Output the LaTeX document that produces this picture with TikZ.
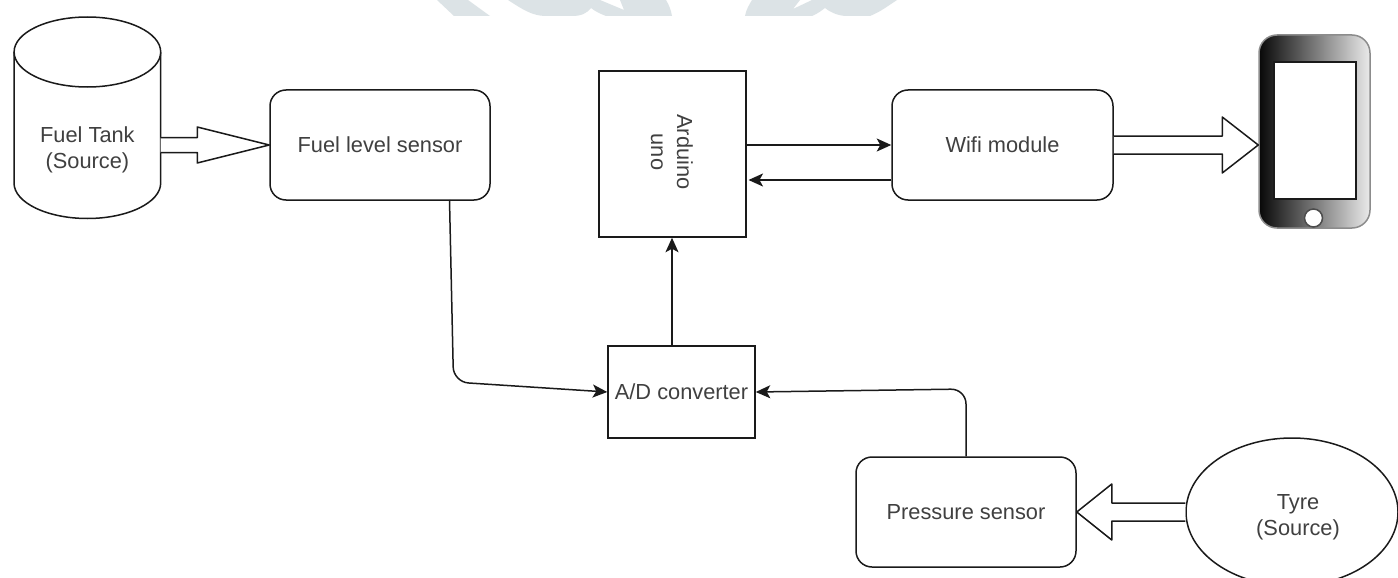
\documentclass[tikz,border=0pt]{standalone}
\usepackage{fontspec}
\setmainfont{Liberation Sans}
\usetikzlibrary{arrows.meta,calc,shapes.geometric}
\definecolor{wm}{HTML}{DCE3E6}
\definecolor{txt}{HTML}{404040}
\definecolor{ln}{HTML}{1A1A1A}
\tikzset{
  lbl/.style={text=txt,font=\fontsize{21.8}{26}\selectfont,align=center,inner sep=0pt},
  boxbase/.style={draw=ln,line width=1.5pt,fill=white,inner sep=0pt,lbl},
  sharpbox/.style={boxbase},
  roundbox/.style={boxbase,rounded corners=16pt},
  conn/.style={draw=ln,line width=1.5pt,-{Stealth[length=14.5pt,width=13pt,inset=3.5pt]}},
  blockarrow/.style={draw=ln,line width=1.5pt,fill=white,line join=round},
  outline/.style={draw=ln,line width=1.5pt,fill=white},
}
\newcommand{\hollowarrow}[5]{%
  \draw[blockarrow] let \p1=(#1),\p2=(#2) in
    (\x1,\y2+#3pt) -- (\x2-#5pt,\y2+#3pt) -- (\x2-#5pt,\y2+#4pt) -- (\x2,\y2)
    -- (\x2-#5pt,\y2-#4pt) -- (\x2-#5pt,\y2-#3pt) -- (\x1,\y2-#3pt);}
\begin{document}
\begin{tikzpicture}[x=1pt,y=-1pt]
\useasboundingbox (0,0) rectangle (1398,578);
\clip (0,0) rectangle (1398,578);
\fill[white] (0,0) rectangle (1398,578);
% watermark remnants
\fill[wm] (437,0) -- (454,16) -- (490,16) -- (468,0) -- cycle;
\fill[wm] (508,0) .. controls (522,9) and (532,16) .. (546,16) -- (572,16)
  .. controls (582,16) and (587,13) .. (591,8) .. controls (596,12) and (601,14) .. (606,16)
  -- (672,16) .. controls (671,10) and (669,5) .. (666,0) -- (620,0) -- (624,10) -- (600,0) -- cycle;
\fill[wm] (745,16) .. controls (746,10) and (749,5) .. (752,0) -- (800,0) -- (793,9) -- (812,0)
  -- (897,0) .. controls (888,6) and (880,12) .. (870,16) -- (845,16)
  .. controls (836,15) and (830,12) .. (825,8) .. controls (821,11) and (817,14) .. (812,16) -- cycle;

% fuel tank
\coordinate (tankport) at (160.7,145);
\draw[outline] (14,52) -- (14,183) .. controls (14,202.5) and (47,218.5) .. (87.4,218.5)
  .. controls (127.8,218.5) and (160.7,202.5) .. (160.7,183) -- (160.7,52);
\draw[outline] (87.4,52) ellipse [x radius=73.3,y radius=35];
\node[lbl] (tanklabel) at (87.4,150) {Fuel Tank\\(Source)};

% nodes
\node[roundbox,minimum width=220pt,minimum height=110pt] (fuel) at (380,145) {Fuel level sensor};
\node[sharpbox,minimum width=147pt,minimum height=166pt] (arduino) at (672.5,154) {};
\node[lbl,rotate=-90] (arduinolabel) at (672,152) {Arduino\\uno};
\node[roundbox,minimum width=221pt,minimum height=110pt] (wifi) at (1002.5,145) {Wifi module};
\node[sharpbox,minimum width=147pt,minimum height=92pt] (adc) at (681.5,392) {A/D converter};
\node[roundbox,minimum width=220pt,minimum height=110pt] (pressure) at (966,512) {Pressure sensor};
\node[boxbase,shape=ellipse,minimum width=212pt,minimum height=148pt] (tyre) at (1292,512) {};
\node[lbl] (tyrelabel) at (1298,517) {Tyre\\(Source)};

% phone
\node[draw=black!45,line width=1.5pt,rounded corners=18pt,left color=black!97,right color=black!8,
      minimum width=111pt,minimum height=193pt,inner sep=0pt] (phone) at (1314.5,131.5) {};
\node[draw=ln,line width=1.5pt,fill=white,minimum width=82pt,minimum height=137pt,inner sep=0pt] (screen) at (1315,130.5) {};
\node[draw=black!70,line width=1.5pt,fill=white,shape=circle,minimum size=18pt,inner sep=0pt] (homebtn) at (1313.5,218) {};

% block arrows
\hollowarrow{tankport}{fuel.west}{7.5}{18}{72}
\coordinate (phoneport) at (phone.west |- wifi.east);
\hollowarrow{wifi.east}{phoneport}{9}{28}{36}
\hollowarrow{tyre.west}{pressure.east}{9}{28}{-35}

% line connectors
\coordinate (fuelout) at (449.5,200);
\coordinate (fuelbend) at (453.5,382);
\coordinate (adcleft) at (adc.west);
\draw[conn,rounded corners=15pt] (fuelout) -- (fuelbend) -- (adcleft);
\coordinate (adctop) at (672,346);
\draw[conn] (adctop) -- (adctop |- arduino.south);
\coordinate (wifiin) at (wifi.west |- 0,145);
\coordinate (ardout) at (arduino.east |- 0,145);
\draw[conn] (ardout) -- (wifiin);
\coordinate (wifiout) at (wifi.west |- 0,180);
\coordinate (ardin) at (748.5,180);
\draw[conn] (wifiout) -- (ardin);
\coordinate (pressout) at (pressure.north);
\coordinate (pressbend) at (966,389);
\draw[conn,rounded corners=15pt] (pressout) -- (pressbend) -- (adc.east);
\end{tikzpicture}
\end{document}
